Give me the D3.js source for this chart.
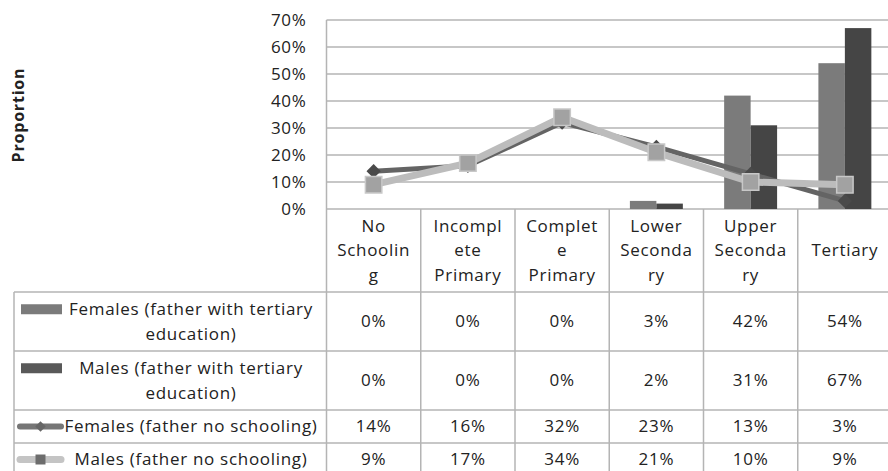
<!DOCTYPE html>
<html>
<head>
<meta charset="utf-8">
<script src="https://cdn.jsdelivr.net/npm/d3@7"></script>
<style>
  body { margin: 0; background: #fff; }
  text { font-family: "Open Sans", "Noto Sans", sans-serif; fill: #222; letter-spacing: 0.7px; }
</style>
</head>
<body>
<svg id="chart" width="888" height="471"></svg>
<script>
// Chart data
const categories = ["No Schooling", "Incomplete Primary", "Complete Primary", "Lower Secondary", "Upper Secondary", "Tertiary"];
const categoryLines = [["No", "Schoolin", "g"], ["Incompl", "ete", "Primary"], ["Complet", "e", "Primary"],
                       ["Lower", "Seconda", "ry"], ["Upper", "Seconda", "ry"], ["Tertiary"]];
const femalesTertiary = [0, 0, 0, 3, 42, 54];
const malesTertiary = [0, 0, 0, 2, 31, 67];
const femalesNoSchooling = [14, 16, 32, 23, 13, 3];
const malesNoSchooling = [9, 17, 34, 21, 10, 9];
const yTicks = [0, 10, 20, 30, 40, 50, 60, 70];
const seriesLabels = [
    ["Females (father with tertiary", "education)"],
    ["Males (father with tertiary", "education)"],
    ["Females (father no schooling)"],
    ["Males (father no schooling)"]
];

const svg = d3.select('#chart');

const plotLeft = 326.5, plotRight = 892, plotTop = 20, plotBottom = 209;
const legendLeft = 14;
// table row boundaries (header row, then one row per series)
const rowEdges = [209, 292, 351, 410, 443, 476];
const gridColor = '#b4b4b4';
const fontSize = 17;

// X scale: one column per category
const x = d3.scaleBand()
    .domain(categories)
    .range([plotLeft, plotRight])
    .padding(0);

// Inner scale for the two bar series
const x1 = d3.scaleBand()
    .domain(['f', 'm'])
    .range([0, x.bandwidth()])
    .paddingInner(0)
    .paddingOuter(0.78);

const y = d3.scaleLinear()
    .domain([0, 70])
    .range([plotBottom, plotTop]);

// Gridlines
svg.append('g')
    .selectAll('line')
    .data(yTicks)
    .enter().append('line')
    .attr('x1', plotLeft)
    .attr('x2', plotRight)
    .attr('y1', d => y(d))
    .attr('y2', d => y(d))
    .attr('stroke', gridColor)
    .attr('stroke-width', 1.5);

// Y axis labels
const yAxis = svg.append('g')
    .attr('transform', `translate(${plotLeft},0)`)
    .call(d3.axisLeft(y).tickValues(yTicks).tickFormat(d => d + '%').tickSize(0).tickPadding(20));
yAxis.select('.domain').remove();
yAxis.selectAll('text')
    .attr('font-size', fontSize)
    .attr('fill', '#222');

// Y-axis title
svg.append('text')
    .attr('transform', 'rotate(-90)')
    .attr('x', -115)
    .attr('y', 24)
    .attr('text-anchor', 'middle')
    .attr('font-size', 16)
    .attr('font-weight', 'bold')
    .style('letter-spacing', '0.8px')
    .text('Proportion');

// Bars
const barData = [];
categories.forEach((c, i) => {
    barData.push({ cat: c, key: 'f', value: femalesTertiary[i] });
    barData.push({ cat: c, key: 'm', value: malesTertiary[i] });
});
svg.append('g')
    .selectAll('rect')
    .data(barData)
    .enter().append('rect')
    .attr('x', d => x(d.cat) + x1(d.key))
    .attr('y', d => y(d.value))
    .attr('width', x1.bandwidth())
    .attr('height', d => plotBottom - y(d.value))
    .attr('fill', d => d.key === 'f' ? '#7b7b7b' : '#454545');

// Lines
const line = d3.line()
    .x((d, i) => x(categories[i]) + x.bandwidth() / 2)
    .y(d => y(d));

const diamond = d3.symbol().type(d3.symbolDiamond2 || d3.symbolDiamond).size(130);
const square = d3.symbol().type(d3.symbolSquare).size(270);

// Females (father no schooling)
svg.append('path')
    .datum(femalesNoSchooling)
    .attr('d', line)
    .attr('fill', 'none')
    .attr('stroke', '#646464')
    .attr('stroke-width', 5)
    .attr('stroke-linejoin', 'round');
svg.append('g')
    .selectAll('path')
    .data(femalesNoSchooling)
    .enter().append('path')
    .attr('d', diamond)
    .attr('transform', (d, i) => `translate(${x(categories[i]) + x.bandwidth() / 2},${y(d)})`)
    .attr('fill', '#4a4a4a');

// Males (father no schooling)
svg.append('path')
    .datum(malesNoSchooling)
    .attr('d', line)
    .attr('fill', 'none')
    .attr('stroke', '#bcbcbc')
    .attr('stroke-width', 7)
    .attr('stroke-linejoin', 'round');
svg.append('g')
    .selectAll('path')
    .data(malesNoSchooling)
    .enter().append('path')
    .attr('d', square)
    .attr('transform', (d, i) => `translate(${x(categories[i]) + x.bandwidth() / 2},${y(d)})`)
    .attr('fill', '#a2a2a2')
    .attr('stroke', '#c8c8c8')
    .attr('stroke-width', 1.5);

// Data table
const table = svg.append('g');

// plot left border, continued down through the table
table.append('line')
    .attr('x1', plotLeft).attr('x2', plotLeft)
    .attr('y1', plotTop).attr('y2', rowEdges[5])
    .attr('stroke', gridColor).attr('stroke-width', 1.5);

// column separators
table.selectAll('.sep')
    .data(categories.slice(1))
    .enter().append('line')
    .attr('class', 'sep')
    .attr('x1', d => x(d)).attr('x2', d => x(d))
    .attr('y1', plotBottom).attr('y2', rowEdges[5])
    .attr('stroke', gridColor).attr('stroke-width', 1.5);

// horizontal row lines
table.selectAll('.row')
    .data(rowEdges.slice(1, 5))
    .enter().append('line')
    .attr('class', 'row')
    .attr('x1', legendLeft).attr('x2', plotRight)
    .attr('y1', d => d).attr('y2', d => d)
    .attr('stroke', gridColor).attr('stroke-width', 1.5);

// legend column left border
table.append('line')
    .attr('x1', legendLeft).attr('x2', legendLeft)
    .attr('y1', rowEdges[1]).attr('y2', rowEdges[5])
    .attr('stroke', gridColor).attr('stroke-width', 1.5);

// Category headers
const lineH = 24.5;
categories.forEach((c, i) => {
    const lines = categoryLines[i];
    const cx = x(c) + x.bandwidth() / 2;
    const midY = (rowEdges[0] + rowEdges[1]) / 2;
    lines.forEach((t, j) => {
        table.append('text')
            .attr('x', cx)
            .attr('y', midY + (j - (lines.length - 1) / 2) * lineH)
            .attr('dy', '0.35em')
            .attr('text-anchor', 'middle')
            .attr('font-size', fontSize)
            .text(t);
    });
});

// Rows of values
const rowSeries = [femalesTertiary, malesTertiary, femalesNoSchooling, malesNoSchooling];
rowSeries.forEach((vals, r) => {
    const top = rowEdges[r + 1], bottom = rowEdges[r + 2];
    const midY = (top + bottom) / 2;
    vals.forEach((v, i) => {
        table.append('text')
            .attr('x', x(categories[i]) + x.bandwidth() / 2)
            .attr('y', midY)
            .attr('dy', '0.35em')
            .attr('text-anchor', 'middle')
            .attr('font-size', fontSize)
            .text(v + '%');
    });

    // legend label
    const lines = seriesLabels[r];
    lines.forEach((t, j) => {
        table.append('text')
            .attr('x', 191)
            .attr('y', midY + (j - (lines.length - 1) / 2) * lineH)
            .attr('dy', '0.35em')
            .attr('text-anchor', 'middle')
            .attr('font-size', fontSize)
            .text(t);
    });

    // legend key
    const keyY = midY - (lines.length - 1) / 2 * lineH;
    if (r < 2) {
        table.append('rect')
            .attr('x', 21).attr('y', keyY - 5)
            .attr('width', 41).attr('height', 10)
            .attr('fill', r === 0 ? '#7b7b7b' : '#595959');
    } else {
        table.append('line')
            .attr('x1', 20).attr('x2', 61)
            .attr('y1', keyY).attr('y2', keyY)
            .attr('stroke', r === 2 ? '#767676' : '#c4c4c4')
            .attr('stroke-width', r === 2 ? 6 : 7)
            .attr('stroke-linecap', 'round');
        table.append('path')
            .attr('d', r === 2 ? d3.symbol().type(d3.symbolDiamond2 || d3.symbolDiamond).size(70)()
                               : d3.symbol().type(d3.symbolSquare).size(100)())
            .attr('transform', `translate(40.5,${keyY})`)
            .attr('fill', r === 2 ? '#666' : '#6c6c6c');
    }
});
</script>
</body>
</html>
